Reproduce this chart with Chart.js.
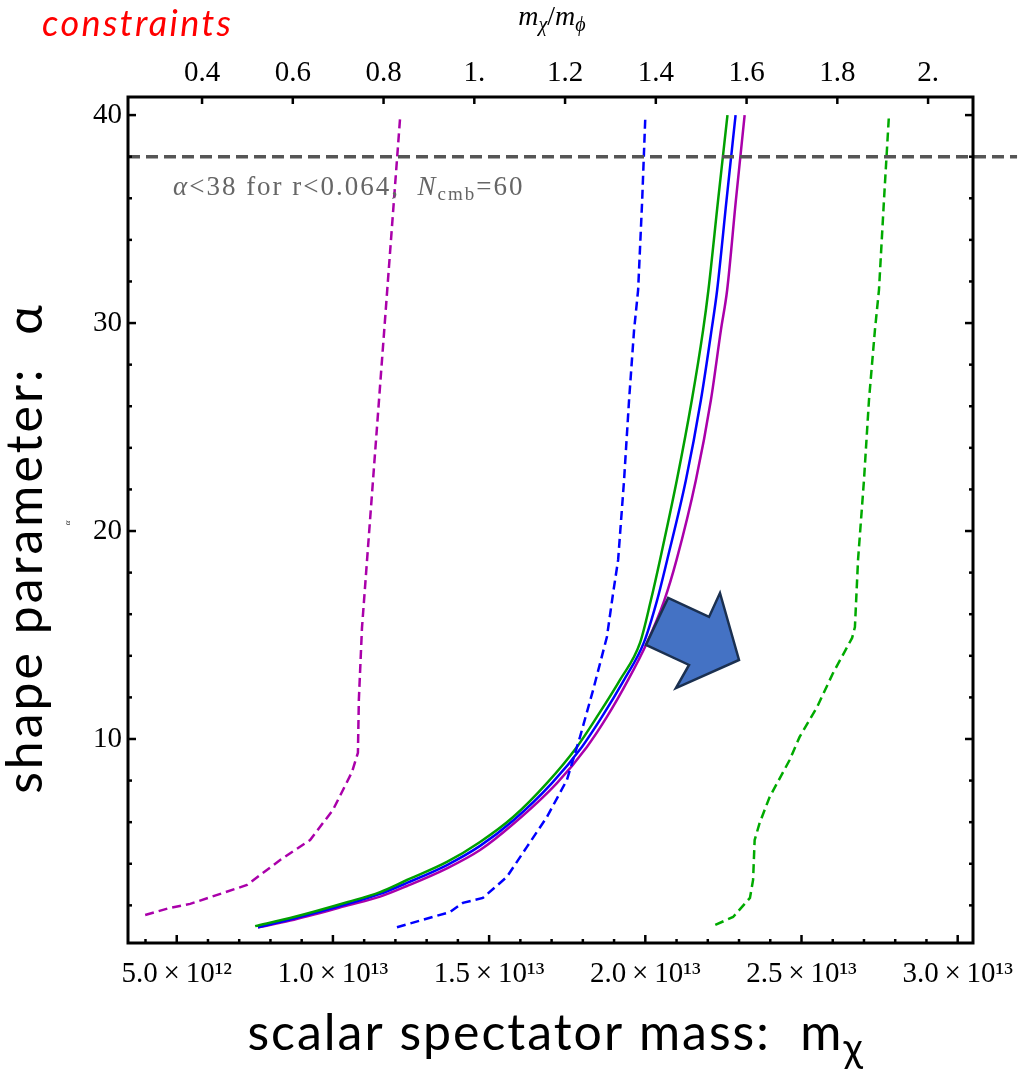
<!DOCTYPE html>
<html>
<head>
<meta charset="utf-8">
<script src="https://cdn.jsdelivr.net/npm/chart.js@4.4.1/dist/chart.umd.min.js"></script>
<style>
  html, body { margin: 0; padding: 0; background: #fff; }
</style>
</head>
<body>
<canvas id="myChart" width="1020" height="1081"></canvas>
<script>
// masses in units of 10^13
const MPHI = 1.4526;           // m_phi, sets the top axis
const xMin = 0.344, xMax = 3.049;
const yMin = 0.19, yMax = 40.87;
const alphaMax = 38;           // constraint line
const constraintX = [xMin, 3.19];

// dashed magenta (left)
const magDashX = [0.399, 0.479, 0.543, 0.725, 0.831, 0.927, 1.000, 1.061, 1.080, 1.083, 1.093, 1.215];
const magDashY = [1.54, 1.88, 2.07, 2.98, 4.18, 5.14, 6.59, 8.41, 9.33, 11.88, 15.34, 39.86];

// solid curves
const greenX = [0.751, 0.863, 1.048, 1.151, 1.237, 1.365, 1.471, 1.577, 1.685, 1.781, 1.845, 1.919, 1.983, 2.018, 2.047, 2.101, 2.149, 2.185, 2.202, 2.233, 2.263];
const greenY = [1.0, 1.39, 2.16, 2.64, 3.22, 4.09, 5.05, 6.25, 7.88, 9.62, 11.06, 12.84, 14.62, 16.68, 18.61, 22.45, 26.30, 29.66, 31.59, 35.91, 40];
const blueX = [0.760, 0.863, 1.048, 1.151, 1.237, 1.365, 1.471, 1.577, 1.701, 1.797, 1.861, 1.932, 1.995, 2.037, 2.070, 2.130, 2.178, 2.212, 2.230, 2.260, 2.289];
const blueY = [0.95, 1.32, 2.07, 2.55, 3.08, 3.94, 4.86, 6.08, 7.88, 9.62, 11.06, 12.84, 14.62, 16.63, 18.61, 22.45, 26.30, 29.66, 31.59, 35.91, 40];
const magX = [0.760, 0.863, 1.048, 1.151, 1.237, 1.365, 1.471, 1.577, 1.717, 1.813, 1.877, 1.945, 2.005, 2.060, 2.100, 2.162, 2.210, 2.242, 2.262, 2.290, 2.318];
const magY = [0.93, 1.27, 2.00, 2.42, 2.93, 3.78, 4.66, 5.91, 7.88, 9.62, 11.06, 12.84, 14.62, 16.63, 18.61, 22.45, 26.30, 29.66, 31.59, 35.91, 40];

// dashed blue and green
const blueDashX = [1.205, 1.375, 1.416, 1.480, 1.557, 1.621, 1.685, 1.749, 1.791, 1.833, 1.877, 1.897, 1.913, 1.932, 1.948, 1.964, 1.977, 1.990, 2.000];
const blueDashY = [0.95, 1.68, 2.12, 2.36, 3.37, 4.81, 6.25, 8.03, 10.10, 12.36, 14.90, 17.02, 18.61, 22.45, 26.30, 29.66, 31.59, 35.91, 39.9];
const greenDashX = [2.224, 2.281, 2.335, 2.345, 2.350, 2.366, 2.398, 2.462, 2.494, 2.550, 2.601, 2.662, 2.671, 2.681, 2.700, 2.716, 2.735, 2.748, 2.764, 2.780];
const greenDashY = [1.06, 1.44, 2.36, 3.22, 5.14, 5.96, 7.21, 8.99, 10.10, 11.54, 13.17, 14.86, 15.38, 18.61, 22.45, 26.30, 29.66, 31.59, 35.91, 40];

// block arrow outline (data coords)
const arrowX = [2.073, 2.204, 2.239, 2.300, 2.098, 2.140, 2.002];
const arrowY = [16.78, 15.87, 17.02, 13.80, 12.45, 13.56, 14.52];

// note position (data coords)
const noteX = 0.488, noteY = 36.15;

const serif = "'Liberation Serif', serif";
const sans = "Lato, 'Open Sans', sans-serif";

function pts(xs, ys) {
  return xs.map((v, i) => ({x: v, y: ys[i]}));
}

function line(xs, ys, color, dash) {
  return {
    data: pts(xs, ys),
    borderColor: color,
    borderWidth: 2.5,
    borderDash: dash || [],
    pointRadius: 0,
    showLine: true,
    tension: 0
  };
}

function smooth(xs, ys, color) {
  return Object.assign(line(xs, ys, color), {cubicInterpolationMode: 'monotone'});
}

// draw a run of text pieces: [text, font, dy]
function richText(ctx, x, y, parts, align, color, spacing) {
  ctx.save();
  ctx.fillStyle = color;
  ctx.textBaseline = 'alphabetic';
  ctx.textAlign = 'left';
  ctx.letterSpacing = (spacing || 0) + 'px';
  let total = 0;
  parts.forEach(p => { ctx.font = p[1]; total += ctx.measureText(p[0]).width; });
  let cx = align === 'center' ? x - total / 2 : x;
  parts.forEach(p => {
    ctx.font = p[1];
    ctx.fillText(p[0], cx, y + (p[2] || 0));
    cx += ctx.measureText(p[0]).width;
  });
  ctx.restore();
}

function tickMarks(ctx, scale, side, area, isMajor, lenMaj, lenMin) {
  scale.ticks.forEach(t => {
    const p = scale.getPixelForValue(t.value);
    const len = isMajor(t.value) ? lenMaj : lenMin;
    ctx.beginPath();
    if (side === 'bottom') { ctx.moveTo(p, area.bottom); ctx.lineTo(p, area.bottom - len); }
    if (side === 'top') { ctx.moveTo(p, area.top); ctx.lineTo(p, area.top + len); }
    if (side === 'left') { ctx.moveTo(area.left, p); ctx.lineTo(area.left + len, p); }
    if (side === 'right') { ctx.moveTo(area.right, p); ctx.lineTo(area.right - len, p); }
    ctx.stroke();
  });
}

const xMajor = v => Math.abs(v * 2 - Math.round(v * 2)) < 1e-6;
const yMajor = v => Math.abs(v % 10) < 1e-6;

const fig = {
  id: 'fig',
  afterDatasetsDraw(chart) {
    const {ctx, scales: {x, y}} = chart;
    // arrow
    ctx.save();
    ctx.beginPath();
    arrowX.forEach((v, i) => {
      const px = x.getPixelForValue(v), py = y.getPixelForValue(arrowY[i]);
      if (i) ctx.lineTo(px, py); else ctx.moveTo(px, py);
    });
    ctx.closePath();
    ctx.fillStyle = '#4472c4';
    ctx.fill();
    ctx.lineWidth = 2.5;
    ctx.lineJoin = 'miter';
    ctx.strokeStyle = '#1b3050';
    ctx.stroke();
    ctx.restore();

    // constraint note
    richText(ctx, x.getPixelForValue(noteX), y.getPixelForValue(noteY), [
      ['α', 'italic 27px ' + serif, 0],
      ['<38 for r<0.064,  ', '27px ' + serif, 0],
      ['N', 'italic 27px ' + serif, 0],
      ['cmb', '19px ' + serif, 5],
      ['=60', '27px ' + serif, 0]
    ], 'left', '#666666', 2);
  },
  afterDraw(chart) {
    const {ctx, chartArea: a, scales: {x, x2, y}} = chart;
    ctx.save();
    ctx.strokeStyle = '#000';
    ctx.lineWidth = 3;
    ctx.strokeRect(a.left, a.top, a.right - a.left, a.bottom - a.top);
    ctx.lineWidth = 2.5;
    tickMarks(ctx, x, 'bottom', a, xMajor, 8, 4);
    tickMarks(ctx, x2, 'top', a, () => true, 7, 7);
    tickMarks(ctx, y, 'left', a, yMajor, 8, 4);
    tickMarks(ctx, y, 'right', a, yMajor, 8, 4);
    ctx.restore();

    // titles
    richText(ctx, 42, 36, [['constraints', 'italic 36px ' + sans, 0]], 'left', '#ff0000', 2.4);
    richText(ctx, 552, 25, [
      ['m', 'italic 28px ' + serif, 0],
      ['χ', 'italic 20px ' + serif, 6],
      ['/', '28px ' + serif, 0],
      ['m', 'italic 28px ' + serif, 0],
      ['ϕ', 'italic 20px ' + serif, 6]
    ], 'center', '#000');
    richText(ctx, 556, 1050, [
      ['scalar spectator mass:  m', '50px ' + sans, 0],
      ['χ', '40px ' + sans, 12]
    ], 'center', '#000', 2);

    ctx.save();
    ctx.translate(42, 548);
    ctx.rotate(-Math.PI / 2);
    richText(ctx, 0, 0, [['shape parameter:  α', '50px ' + sans, 0]], 'center', '#000', 3);
    ctx.restore();

    ctx.save();
    ctx.translate(70, 523);
    ctx.rotate(-Math.PI / 2);
    richText(ctx, 0, 0, [['α', 'italic 9px ' + serif, 0]], 'center', '#333');
    ctx.restore();
  }
};

const tickFont = {family: serif, size: 29};
// keep the frame where it is even if end labels overhang
const noOverhang = s => { s.paddingLeft = 0; s.paddingRight = 0; s.paddingTop = 0; s.paddingBottom = 0; };

new Chart(document.getElementById('myChart'), {
  type: 'scatter',
  data: {
    datasets: [
      Object.assign(line(constraintX, [alphaMax, alphaMax], '#555555', [12, 6]), {borderWidth: 3.5, clip: false}),
      line(magDashX, magDashY, '#aa00aa', [9, 5]),
      line(blueDashX, blueDashY, '#0000ff', [9, 5]),
      line(greenDashX, greenDashY, '#00aa00', [9, 5]),
      smooth(greenX, greenY, '#00a000'),
      smooth(blueX, blueY, '#0000ff'),
      smooth(magX, magY, '#aa00aa')
    ]
  },
  options: {
    responsive: false,
    animation: false,
    events: [],
    layout: {padding: {left: 0, right: 47, top: 0, bottom: 0}},
    plugins: {legend: {display: false}, tooltip: {enabled: false}},
    scales: {
      x: {
        type: 'linear', position: 'bottom', min: xMin, max: xMax,
        grid: {display: false, drawTicks: false}, border: {display: false},
        ticks: {
          stepSize: 0.1, autoSkip: false, maxRotation: 0, includeBounds: false,
          font: tickFont, color: '#000', padding: 14,
          callback: v => {
            if (!xMajor(v)) return '';
            return v < 1 ? (v * 10).toFixed(1) + '\u2009×\u200910¹²' : v.toFixed(1) + '\u2009×\u200910¹³';
          }
        },
        afterFit: s => { s.height = 138; noOverhang(s); }
      },
      x2: {
        type: 'linear', position: 'top', min: xMin / MPHI, max: xMax / MPHI,
        grid: {display: false, drawTicks: false}, border: {display: false},
        ticks: {
          stepSize: 0.2, autoSkip: false, maxRotation: 0, includeBounds: false,
          font: tickFont, color: '#000', padding: 6,
          callback: v => {
            const s = String(Math.round(v * 10) / 10);
            return s.indexOf('.') < 0 ? s + '.' : s;
          }
        },
        afterFit: s => { s.height = 97; noOverhang(s); }
      },
      y: {
        type: 'linear', position: 'left', min: yMin, max: yMax,
        grid: {display: false, drawTicks: false}, border: {display: false},
        ticks: {
          stepSize: 2, autoSkip: false, includeBounds: false,
          font: tickFont, color: '#000', padding: 6,
          callback: v => yMajor(v) ? String(v) : ''
        },
        afterFit: s => { s.width = 128; noOverhang(s); }
      }
    }
  },
  plugins: [fig]
});
</script>
</body>
</html>
